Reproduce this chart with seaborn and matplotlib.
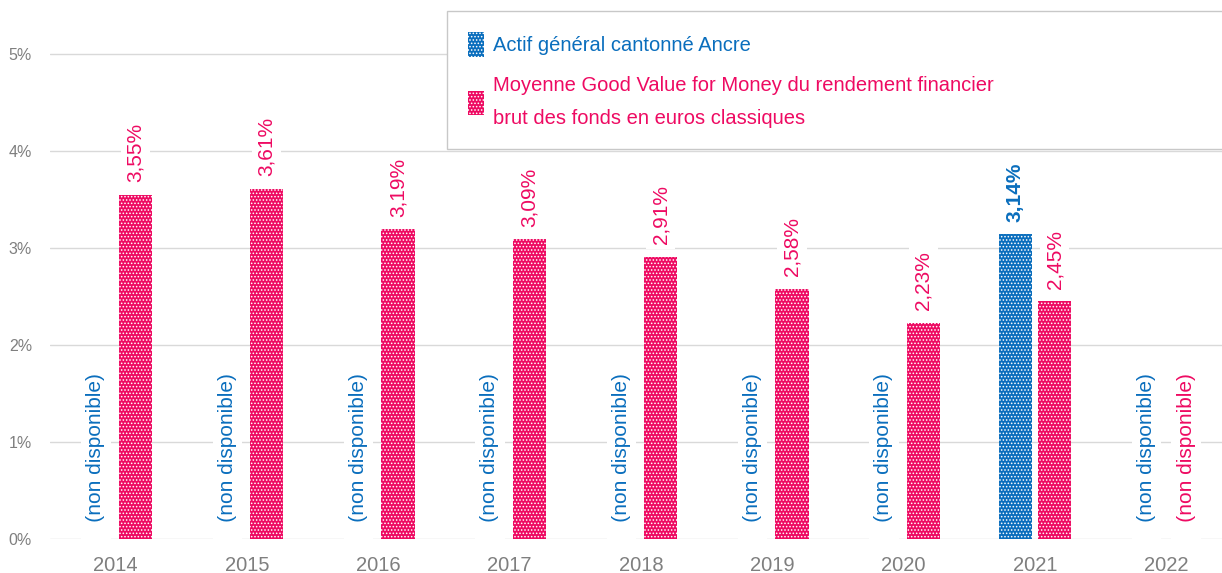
import numpy as np
import pandas as pd
import matplotlib
matplotlib.use("Agg")
import matplotlib.pyplot as plt
from matplotlib.patches import Patch
import seaborn as sns

# données
annees = ['2014', '2015', '2016', '2017', '2018', '2019', '2020', '2021', '2022']
ancre = [np.nan, np.nan, np.nan, np.nan, np.nan, np.nan, np.nan, 3.14, np.nan]
gvm = [3.55, 3.61, 3.19, 3.09, 2.91, 2.58, 2.23, 2.45, np.nan]
series = ['Actif général cantonné Ancre',
          'Moyenne Good Value for Money du rendement financier\nbrut des fonds en euros classiques']
couleurs = ['#0a6ebd', '#ee0a62']
graduations = [0, 1, 2, 3, 4, 5]

sns.set_theme(style="white")
plt.rcParams['font.family'] = ['Liberation Sans', 'DejaVu Sans']
plt.rcParams['hatch.linewidth'] = 0.7

df = pd.DataFrame({
    'annee': annees * 2,
    'serie': [series[0]] * len(annees) + [series[1]] * len(annees),
    'valeur': ancre + gvm,
})
df_ok = df.dropna()

fig = plt.figure(figsize=(12.22, 5.73), dpi=100)
ax = fig.add_axes([50 / 1222, 34 / 573, 1182 / 1222, 524 / 573])

largeur = 0.6
sns.barplot(data=df_ok, x='annee', y='valeur', hue='serie', order=annees,
            hue_order=series, palette=couleurs, width=largeur, gap=0.15,
            saturation=1, errorbar=None, legend=False, ax=ax)

motif = '.....'
for p in ax.patches:
    p.set_hatch(motif)
    p.set_edgecolor('white')
    p.set_linewidth(0)

boite = dict(boxstyle='square,pad=0.25', fc='white', ec='none')

# étiquettes de valeur au-dessus des barres
for k, cont in enumerate(ax.containers):
    for p in cont.patches:
        h = p.get_height()
        if np.isnan(h):
            continue
        ax.annotate(f"{h:.2f}%".replace('.', ','),
                    (p.get_x() + p.get_width() / 2, h),
                    textcoords="offset points", xytext=(0, 9),
                    ha='center', va='bottom', rotation=90,
                    color=couleurs[k], fontsize=15,
                    fontweight='bold' if k == 0 else 'normal',
                    bbox=boite)

# valeurs manquantes
decalage = largeur / 4
for k, vals in enumerate([ancre, gvm]):
    for i, v in enumerate(vals):
        if np.isnan(v):
            x = i - decalage if k == 0 else i + decalage
            ax.text(x, 0, '   (non disponible)', rotation=90,
                    ha='center', va='bottom', color=couleurs[k],
                    fontsize=15, bbox=boite)

ax.set_xlim(-0.5, 8.5)
ax.set_ylim(0, 5.4)
ax.set_yticks(graduations)
ax.set_yticklabels([f"{g}%" for g in graduations])
ax.set_xlabel('')
ax.set_ylabel('')
ax.yaxis.grid(True, color='#d9d9d9', linewidth=1)
ax.xaxis.grid(False)
ax.set_axisbelow(True)
for s in ax.spines.values():
    s.set_visible(False)
ax.tick_params(axis='y', length=0, colors='#7f7f7f', labelsize=11.5, pad=13)
ax.tick_params(axis='x', length=0, colors='#7f7f7f', labelsize=14.5, pad=12)

poignees = [Patch(facecolor=c, edgecolor='white', hatch=motif, linewidth=0)
            for c in couleurs]
leg = ax.legend(poignees, series, loc='upper left',
                bbox_to_anchor=(447 / 1222, 0.3, 0.7, 1 - 11 / 573 - 0.3),
                bbox_transform=fig.transFigure, mode='expand',
                prop={'family': 'Liberation Sans', 'size': 14.5},
                frameon=True, fancybox=False, framealpha=1, borderaxespad=0,
                borderpad=1.05, handlelength=0.8, handleheight=1.5,
                handletextpad=0.45, labelspacing=0.95)
leg.get_frame().set_edgecolor('#c8c8c8')
leg.get_frame().set_linewidth(1)
for t, c in zip(leg.get_texts(), couleurs):
    t.set_color(c)
    t.set_linespacing(1.95)

fig.savefig('out.png', dpi=100)
